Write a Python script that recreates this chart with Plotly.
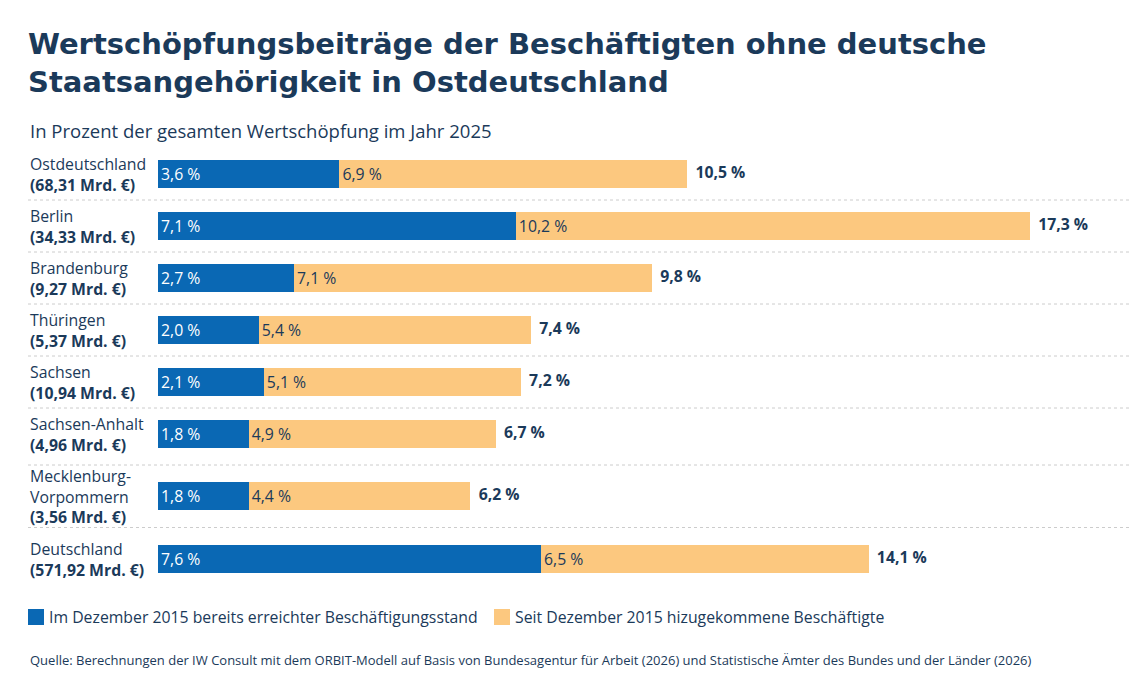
import plotly.graph_objects as go

regions = ["Ostdeutschland", "Berlin", "Brandenburg", "Thüringen", "Sachsen",
           "Sachsen-Anhalt", "Mecklenburg-<br>Vorpommern", "Deutschland"]
volumes = ["68,31", "34,33", "9,27", "5,37", "10,94", "4,96", "3,56", "571,92"]
bestand = [3.6, 7.1, 2.7, 2.0, 2.1, 1.8, 1.8, 7.6]
neu = [6.9, 10.2, 7.1, 5.4, 5.1, 4.9, 4.4, 6.5]
gesamt = [10.5, 17.3, 9.8, 7.4, 7.2, 6.7, 6.2, 14.1]

BLUE = "#0a68b4"
ORANGE = "#fcc87f"
NAVY = "#1b3a5a"
FONT = "Open Sans"
FS = 15.8

PLOT_L = 158      # Bildschirm-x der Nulllinie
PW = 1138 - 150   # Breite Plotbereich
PX_PER_PCT = 50.4

def px(sx):
    return (sx - PLOT_L) / PW

def fmt(v):
    return f"{v:.1f}".replace(".", ",") + " %"

# Zeilenmitten in Pixeln (y-Achse = Bildschirm-Pixel von oben)
centers = []
y = 174
for i, r in enumerate(regions):
    if i > 0:
        y += 52
        if "<br>" in r:
            y += 10
        if "<br>" in regions[i - 1]:
            y += 11
    centers.append(y)

fig = go.Figure()
fig.add_trace(go.Bar(y=centers, x=bestand, orientation="h", width=28,
                     marker=dict(color=BLUE, line=dict(width=0)),
                     text=[fmt(v) for v in bestand], textposition="inside",
                     insidetextanchor="start",
                     textfont=dict(color="white", size=FS, family=FONT),
                     hoverinfo="skip"))
fig.add_trace(go.Bar(y=centers, x=neu, orientation="h", width=28,
                     marker=dict(color=ORANGE, line=dict(width=0)),
                     text=[fmt(v) for v in neu], textposition="inside",
                     insidetextanchor="start",
                     textfont=dict(color=NAVY, size=FS, family=FONT),
                     hoverinfo="skip"))
fig.add_trace(go.Scatter(y=centers, x=gesamt, mode="text",
                         text=[f"  <b>{fmt(v)}</b>" for v in gesamt],
                         textposition="middle right",
                         textfont=dict(color=NAVY, size=FS, family=FONT),
                         hoverinfo="skip"))

ann = []
for r, v, c in zip(regions, volumes, centers):
    ann.append(dict(xref="paper", yref="y", x=px(28), y=c, xanchor="left",
                    yanchor="middle", align="left", showarrow=False,
                    text=f"{r}<br><b>({v} Mrd. €)</b>",
                    font=dict(size=FS, color=NAVY, family=FONT)))

shapes = []
for a, b in zip(centers[:-1], centers[1:]):
    m = (a + b) / 2
    shapes.append(dict(type="line", xref="paper", yref="y", x0=px(28), x1=1,
                       y0=m, y1=m, line=dict(color="#cccccc", width=1, dash="dot")))

# Legende
for sx, col, txt in [(28, BLUE, "Im Dezember 2015 bereits erreichter Beschäftigungsstand"),
                     (494, ORANGE, "Seit Dezember 2015 hizugekommene Beschäftigte")]:
    shapes.append(dict(type="rect", xref="paper", yref="y",
                       x0=px(sx), x1=px(sx + 16), y0=609, y1=625,
                       fillcolor=col, line=dict(width=0)))
    ann.append(dict(xref="paper", yref="y", x=px(sx + 19), y=617, xanchor="left",
                    yanchor="middle", showarrow=False, text=txt,
                    font=dict(size=FS, color=NAVY, family=FONT)))

ann.append(dict(xref="paper", yref="y", x=px(26), y=63, xanchor="left", yanchor="middle",
                showarrow=False, align="left",
                text="<b>Wertschöpfungsbeiträge der Beschäftigten ohne deutsche<br>Staatsangehörigkeit in Ostdeutschland</b>",
                font=dict(size=29, color=NAVY, family="DejaVu Sans")))
ann.append(dict(xref="paper", yref="y", x=px(28), y=130, xanchor="left", yanchor="middle",
                showarrow=False, text="In Prozent der gesamten Wertschöpfung im Jahr 2025",
                font=dict(size=18.5, color=NAVY, family=FONT)))
ann.append(dict(xref="paper", yref="y", x=px(28), y=660, xanchor="left", yanchor="middle",
                showarrow=False,
                text="Quelle: Berechnungen der IW Consult mit dem ORBIT-Modell auf Basis von Bundesagentur für Arbeit (2026) und Statistische Ämter des Bundes und der Länder (2026)",
                font=dict(size=13, color=NAVY, family=FONT)))

fig.update_layout(
    barmode="stack", width=1138, height=681, showlegend=False,
    margin=dict(l=150, r=0, t=0, b=0),
    paper_bgcolor="white", plot_bgcolor="white",
    xaxis=dict(range=[0, PW / PX_PER_PCT], visible=False),
    yaxis=dict(range=[689, 8], visible=False),
    annotations=ann, shapes=shapes, uniformtext=dict(minsize=10, mode="show"),
)
fig.write_html("out.html")
